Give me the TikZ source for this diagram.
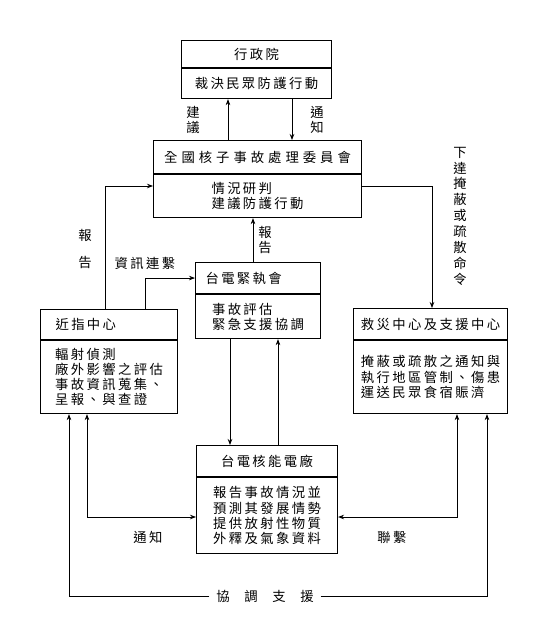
\documentclass[tikz,border=0pt]{standalone}
\usepackage{fontspec}
\setmainfont{Noto Sans CJK TC}[LetterSpace=18]
\newfontfamily\widecjk{Noto Sans CJK TC}[LetterSpace=30]
\newfontfamily\plaincjk{Noto Sans CJK TC}
\usetikzlibrary{arrows.meta,positioning}
\tikzset{
  head/.style={draw,line width=.8pt,anchor=north west,inner sep=0pt,align=center,font=\fontsize{10}{12}\selectfont},
  body/.style={draw,line width=.8pt,anchor=north west,inner sep=0pt,align=left,font=\fontsize{10}{11.4}\selectfont},
  flow/.style={-{Stealth[length=4.5pt,width=3.4pt]},line width=.6pt},
  twoway/.style={{Stealth[length=4.5pt,width=3.4pt]}-{Stealth[length=4.5pt,width=3.4pt]},line width=.6pt},
  tag/.style={inner sep=1pt,align=center,font=\fontsize{10}{11.4}\selectfont},
}

\begin{document}
\begin{tikzpicture}[x=.75pt,y=-.75pt]
\useasboundingbox (0,0) rectangle (552,637);
\node[head,minimum width=112.5pt,minimum height=20.25pt] (gov) at (181,40) {行政院};
\node[body,minimum width=112.5pt,minimum height=22.5pt,align=center] (govb) at (gov.south west) {裁決民眾防護行動};
\node[head,minimum width=156pt,minimum height=24.75pt] (hq) at (153,140) {\widecjk 全國核子事故處理委員會};
\node[body,minimum width=156pt,minimum height=32.25pt] (hqb) at (hq.south west) {情況研判\\建議防護行動};
\node[head,text width=78.75pt,inner xsep=7.5pt,align=left,minimum height=23.25pt] (tp) at (195,262) {台電緊執會};
\node[body,minimum width=93.75pt,minimum height=33pt] (tpb) at (tp.south west) {事故評估\\緊急支援協調};
\node[head,text width=80.25pt,inner xsep=11.25pt,align=left,minimum height=22.5pt] (near) at (40,309) {近指中心};
\node[body,minimum width=102.75pt,minimum height=54.75pt] (nearb) at (near.south west) {輻射偵測\\廠外影響之評估\\事故資訊蒐集、\\呈報、與查證};
\node[head,minimum width=115.5pt,minimum height=23.25pt] (rescue) at (353,308) {救災中心及支援中心};
\node[body,minimum width=115.5pt,minimum height=54.75pt] (rescueb) at (rescue.south west) {掩蔽或疏散之通知與\\執行地區管制、傷患\\運送民眾食宿賑濟};
\node[head,minimum width=105.75pt,minimum height=23.25pt] (plant) at (196,445) {台電核能電廠};
\node[body,minimum width=105.75pt,minimum height=57pt] (plantb) at (plant.south west) {報告事故情況並\\預測其發展情勢\\提供放射性物質\\外釋及氣象資料};

\draw[flow] (hq.north -| 228,0) -- (govb.south -| 228,0);
\draw[flow] (govb.south -| 292,0) -- (hq.north -| 292,0);
\node[tag] (lsuggest) at (193,120) {建\\議};
\node[tag] (lnotify) at (317,120) {通\\知};
\draw[flow] (tp.north -| 253,0) -- (hqb.south -| 253,0);
\node[tag] (lreport) at (265,240) {報\\告};
\draw[flow] (near.north -| 105,0) |- (hqb.west |- 0,186);
\node[tag] (lreportb) at (85,249) {報\\[9pt]告};
\draw[flow] (near.north -| 145,0) |- (tp.west);
\node[tag] (linfo) at (145,263) {資訊連繫};
\draw[flow] (hqb.east |- 0,186) -| (rescue.north -| 432,0);
\node[tag,font=\fontsize{10}{11.9}\selectfont] (lorder) at (460,216) {下\\達\\掩\\蔽\\或\\疏\\散\\命\\令};
\draw[flow] (tpb.south -| 230,0) -- (plant.north -| 230,0);
\draw[flow] (plant.north -| 278,0) -- (tpb.south -| 278,0);
\draw[twoway] (nearb.south -| 87,0) |- (plantb.west |- 0,517);
\node[tag] (lnotifyb) at (148,537) {通知};
\draw[twoway] (rescueb.south -| 457,0) |- (plantb.east |- 0,517);
\node[tag] (lliaison) at (392,537) {聯繫};
\node[tag,inner xsep=5pt] (support) at (265,596) {\plaincjk 協\hspace{11pt}調\hspace{11pt}支\hspace{11pt}援};
\draw[flow] (support.west) -| (nearb.south -| 69,0);
\draw[flow] (support.east) -| (rescueb.south -| 487,0);
\end{tikzpicture}
\end{document}
